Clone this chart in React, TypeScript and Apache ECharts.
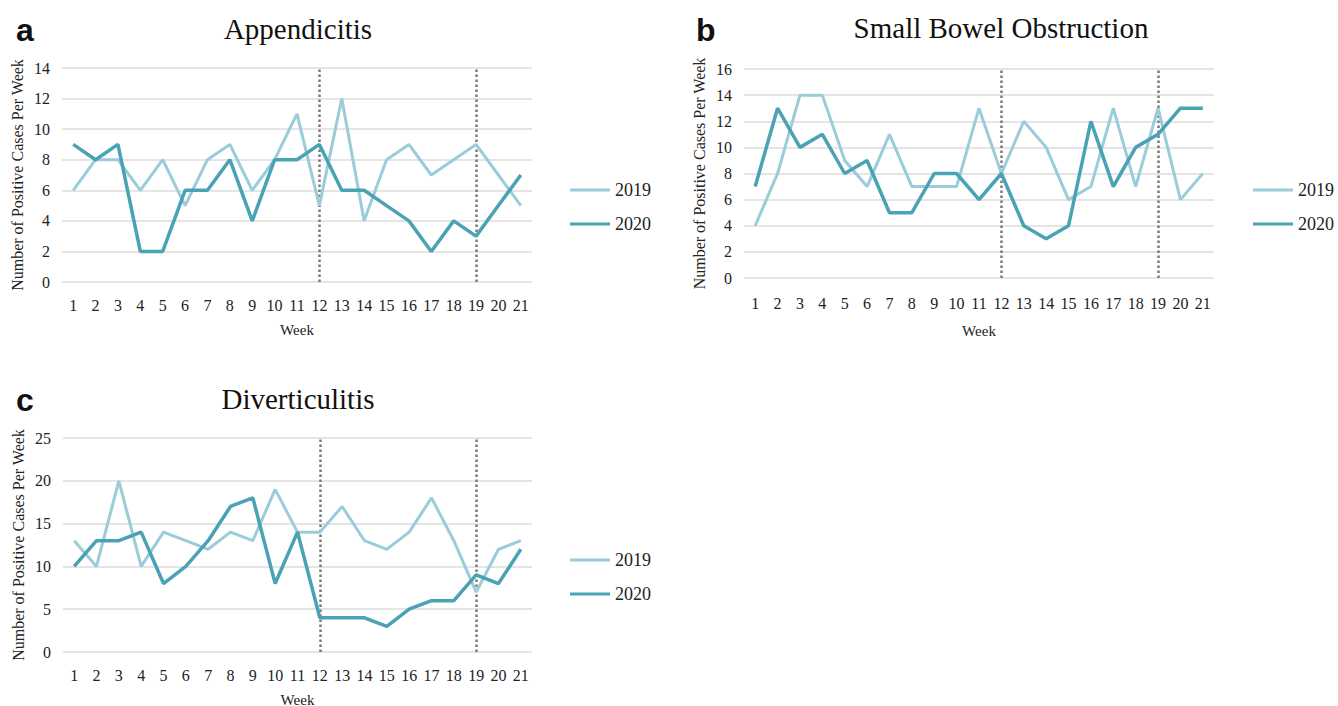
import React, { useEffect, useRef } from "react";
import * as echarts from "echarts";

const weeks = ["1","2","3","4","5","6","7","8","9","10","11","12","13","14","15","16","17","18","19","20","21"];

const appendicitis2019 = [6, 8, 8, 6, 8, 5, 8, 9, 6, 8, 11, 5, 12, 4, 8, 9, 7, 8, 9, 7, 5];
const appendicitis2020 = [9, 8, 9, 2, 2, 6, 6, 8, 4, 8, 8, 9, 6, 6, 5, 4, 2, 4, 3, 5, 7];

const sbo2019 = [4, 8, 14, 14, 9, 7, 11, 7, 7, 7, 13, 8, 12, 10, 6, 7, 13, 7, 13, 6, 8];
const sbo2020 = [7, 13, 10, 11, 8, 9, 5, 5, 8, 8, 6, 8, 4, 3, 4, 12, 7, 10, 11, 13, 13];

const divert2019 = [13, 10, 20, 10, 14, 13, 12, 14, 13, 19, 14, 14, 17, 13, 12, 14, 18, 13, 7, 12, 13];
const divert2020 = [10, 13, 13, 14, 8, 10, 13, 17, 18, 8, 14, 4, 4, 4, 3, 5, 6, 6, 9, 8, 12];

const markerWeeks = ["12", "19"];
const seriesNames = ["2019", "2020"];
const panelTitles = ["Appendicitis", "Small Bowel Obstruction", "Diverticulitis"];
const panelLetters = ["a", "b", "c"];
const yMax = [14, 16, 25];
const yStep = [2, 2, 5];

const C2019 = "#9accd9";
const C2020 = "#4aa2b5";
const SERIF = "'Liberation Serif', 'Times New Roman', serif";
const SANS = "'Liberation Sans', Arial, sans-serif";

export default function App() {
  const ref = useRef<HTMLDivElement>(null);
  useEffect(() => {
    if (!ref.current) return;
    const chart = echarts.init(ref.current, undefined, { renderer: "svg" });

    const grids = [
      { left: 62, top: 68, width: 470, height: 214, outerBoundsMode: "none", containLabel: false },
      { left: 744, top: 69, width: 470, height: 209, outerBoundsMode: "none", containLabel: false },
      { left: 63, top: 438, width: 469, height: 214, outerBoundsMode: "none", containLabel: false },
    ];
    const titlePos = [
      { x: 293, y: 9 },
      { x: 996, y: 8 },
      { x: 293, y: 379 },
    ];
    const letterPos = [
      { x: 11, y: 9 },
      { x: 691, y: 9 },
      { x: 11, y: 379 },
    ];
    const legendPos = [
      { left: 565, top: 175 },
      { left: 1248, top: 175 },
      { left: 565, top: 545 },
    ];
    const xLabelMargin = [15, 17, 15];
    const weekGap = [40, 45, 40];
    const data = [
      [appendicitis2019, appendicitis2020],
      [sbo2019, sbo2020],
      [divert2019, divert2020],
    ];

    const titles: any[] = [];
    panelTitles.forEach((t, i) => {
      titles.push({
        text: t,
        left: titlePos[i].x,
        top: titlePos[i].y,
        textAlign: "center",
        textStyle: { fontFamily: SERIF, fontSize: 29, fontWeight: "normal", color: "#111" },
      });
      titles.push({
        text: panelLetters[i],
        left: letterPos[i].x,
        top: letterPos[i].y,
        textStyle: { fontFamily: SANS, fontSize: 32, fontWeight: "bold", color: "#111" },
      });
    });

    const xAxes = grids.map((_, i) => ({
      type: "category",
      gridIndex: i,
      data: weeks,
      boundaryGap: true,
      axisLine: { show: false },
      axisTick: { show: false },
      axisLabel: { fontFamily: SERIF, fontSize: 16, color: "#222", margin: xLabelMargin[i], interval: 0 },
      name: "Week",
      nameLocation: "middle",
      nameGap: weekGap[i],
      nameTextStyle: { fontFamily: SERIF, fontSize: 15, color: "#222" },
    }));

    const yAxes = grids.map((_, i) => ({
      type: "value",
      gridIndex: i,
      min: 0,
      max: yMax[i],
      interval: yStep[i],
      axisLine: { show: false },
      axisTick: { show: false },
      splitLine: { lineStyle: { color: "#dcdcdc", width: 1.5 } },
      axisLabel: { fontFamily: SERIF, fontSize: 16, color: "#222", margin: 12 },
      name: "Number of Positive Cases Per Week",
      nameLocation: "middle",
      nameGap: 37,
      nameTextStyle: { fontFamily: SERIF, fontSize: 16, color: "#222" },
    }));

    const series: any[] = [];
    data.forEach((pair, i) => {
      series.push({
        name: seriesNames[0],
        type: "line",
        xAxisIndex: i,
        yAxisIndex: i,
        data: pair[0],
        symbol: "none",
        lineStyle: { color: C2019, width: 3 },
        itemStyle: { color: C2019 },
        z: 2,
      });
      series.push({
        name: seriesNames[1],
        type: "line",
        xAxisIndex: i,
        yAxisIndex: i,
        data: pair[1],
        symbol: "none",
        lineStyle: { color: C2020, width: 3.5 },
        itemStyle: { color: C2020 },
        z: 3,
        markLine: {
          silent: true,
          symbol: "none",
          label: { show: false },
          lineStyle: { color: "#7a7a7a", type: [2.5, 2.5], width: 2.5 },
          data: markerWeeks.map((w) => ({ xAxis: w })),
          z: 1,
        },
      });
    });

    const legends = legendPos.map((p) => ({
      orient: "vertical",
      left: p.left,
      top: p.top,
      data: seriesNames,
      icon: "rect",
      itemWidth: 40,
      itemHeight: 3,
      itemGap: 14,
      selectedMode: false,
      textStyle: { fontFamily: SERIF, fontSize: 18, color: "#222", lineHeight: 20 },
    }));

    chart.setOption({
      animation: false,
      backgroundColor: "#ffffff",
      title: titles,
      grid: grids,
      xAxis: xAxes,
      yAxis: yAxes,
      legend: legends,
      series,
    });

    return () => chart.dispose();
  }, []);

  return (
    <div
      ref={ref}
      style={{ position: "fixed", left: 0, top: 0, width: 1338, height: 706, background: "#fff" }}
    />
  );
}
